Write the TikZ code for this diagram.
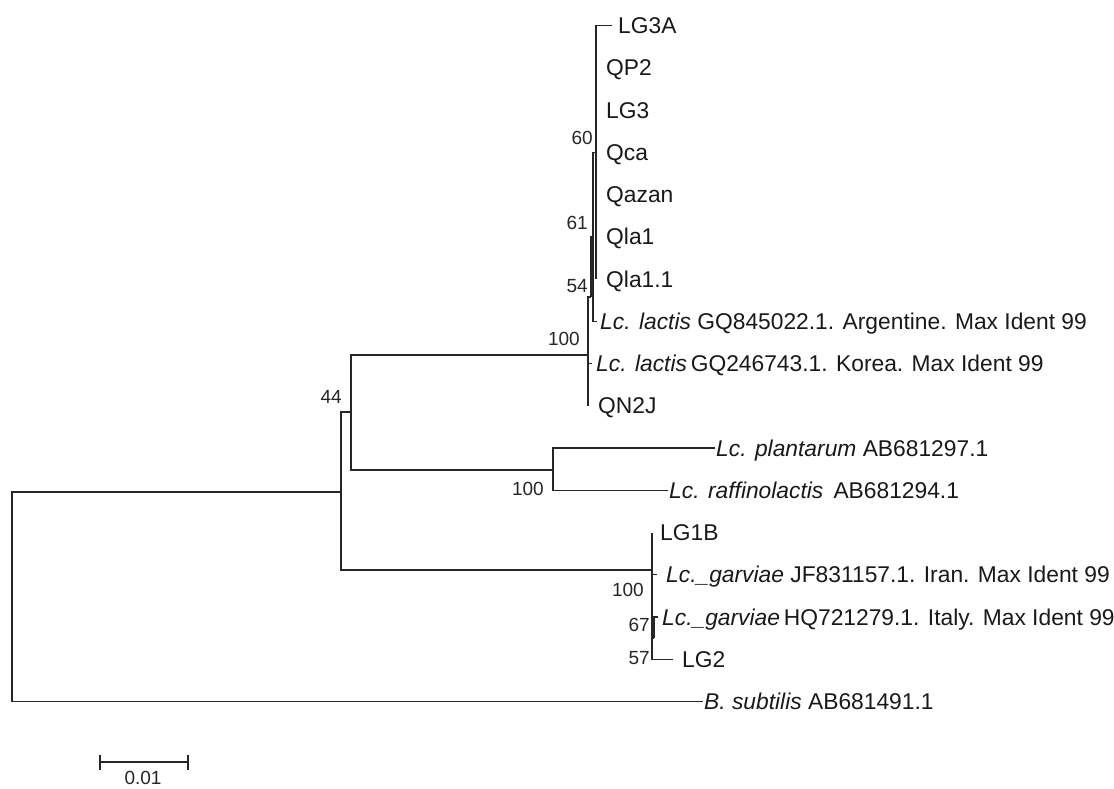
\documentclass[tikz,border=0pt]{standalone}
\usepackage{fontspec}
\setmainfont{Liberation Sans}
\begin{document}
\begin{tikzpicture}[x=1pt,y=-1pt,
  br/.style={line width=1.1pt,draw=black!85},
  taxon/.style={anchor=base west,inner sep=0pt,font=\fontsize{22.8}{25}\selectfont,text=black!90},
  boot/.style={anchor=east,inner sep=0pt,font=\fontsize{19}{21}\selectfont,text=black!85}]
\useasboundingbox (0,0) rectangle (1114,788);
% ---- tip coordinates (branch ends)
\coordinate (e0) at (612,25.5);
\coordinate (e1) at (596,67.75);
\coordinate (e2) at (596,110);
\coordinate (e3) at (596,152.25);
\coordinate (e4) at (596,194.5);
\coordinate (e5) at (596,236.75);
\coordinate (e6) at (596,279);
\coordinate (e7) at (597,321.25);
\coordinate (e8) at (592,363.5);
\coordinate (e9) at (588,405.75);
\coordinate (e10) at (715,448);
\coordinate (e11) at (668,490.25);
\coordinate (e12) at (652,532.5);
\coordinate (e13) at (657,574.75);
\coordinate (e14) at (658,617);
\coordinate (e15) at (673,659.25);
\coordinate (e16) at (703,701.5);
% ---- internal nodes
\coordinate (root) at (12,596);
\coordinate (n1) at (341,492);
\coordinate (n44) at (351,412);
\coordinate (nPl) at (553,470);
\coordinate (nL) at (588,355);
\coordinate (n54) at (591,297);
\coordinate (n61) at (593,236.75);
\coordinate (n60) at (596,152.25);
\coordinate (nG) at (652,570);
\coordinate (n67) at (654,638);
% ---- branches
\draw[br] (root) |- (n1);
\draw[br] (root) |- (e16);
\draw[br] (n1) |- (n44);
\draw[br] (n1) |- (nG);
\draw[br] (n44) |- (nL);
\draw[br] (n44) |- (nPl);
\draw[br] (nPl) |- (e10);
\draw[br] (nPl) |- (e11);
\draw[br] (nL) |- (n54);
\draw[br] (nL) |- (e8);
\draw[br] (nL) |- (e9);
\draw[br] (n54) |- (n61);
\draw[br] (n61) |- (n60);
\draw[br] (n61) |- (e7);
\draw[br] (n60) |- (e0);
\draw[br] (n60) |- (e1);
\draw[br] (n60) |- (e2);
\draw[br] (n60) |- (e3);
\draw[br] (n60) |- (e4);
\draw[br] (n60) |- (e5);
\draw[br] (n60) |- (e6);
\draw[br] (nG) |- (e12);
\draw[br] (nG) |- (e13);
\draw[br] (nG) |- (n67);
\draw[br] (nG) |- (e15);
\draw[br] (n67) |- (e14);
% ---- taxon labels
\node[taxon] (t0) at (618,33.7) {LG3A};
\node[taxon] (t1) at (606,75.9) {QP2};
\node[taxon] (t2) at (606,118.2) {LG3};
\node[taxon] (t3) at (606,160.4) {Qca};
\node[taxon] (t4) at (606,202.7) {Qazan};
\node[taxon] (t5) at (606,244.9) {Qla1};
\node[taxon] (t6) at (606,287.2) {Qla1.1};
\node[taxon] (t7) at (600,329.4) {\textit{Lc. lactis} GQ845022.1. Argentine. Max Ident 99};
\node[taxon] (t8) at (596,371.7) {\textit{Lc. lactis}\,GQ246743.1. Korea. Max Ident 99};
\node[taxon] (t9) at (598,413.9) {QN2J};
\node[taxon] (t10) at (716,456.2) {\textit{Lc. plantarum} AB681297.1};
\node[taxon] (t11) at (669,498.4) {\textit{Lc. raffinolactis}\, AB681294.1};
\node[taxon] (t12) at (660,540.7) {LG1B};
\node[taxon] (t13) at (666,582.9) {\textit{Lc.\_garviae} JF831157.1. Iran. Max Ident 99};
\node[taxon] (t14) at (662,625.2) {\textit{Lc.\_garviae}\,HQ721279.1. Italy. Max Ident 99};
\node[taxon] (t15) at (682,667.4) {LG2};
\node[taxon] (t16) at (704,709.7) {\textit{B. subtilis} AB681491.1};
% ---- bootstrap values
\node[boot] (b60) at (593,138) {60};
\node[boot] (b61) at (588,223) {61};
\node[boot] (b54) at (588,286) {54};
\node[boot] (b100a) at (580,339) {100};
\node[boot] (b44) at (342,397) {44};
\node[boot] (b100b) at (544,489) {100};
\node[boot] (b100c) at (644,590) {100};
\node[boot] (b67) at (650,625) {67};
\node[boot] (b57) at (650,658) {57};
% ---- scale bar
\coordinate (s0) at (100,762);
\coordinate (s1) at (188,762);
\draw[br] (s0) -- (s1);
\draw[br] ([yshift=-7.5pt]s0) -- ([yshift=7.5pt]s0);
\draw[br] ([yshift=-7.5pt]s1) -- ([yshift=7.5pt]s1);
\node[boot,anchor=center] (sl) at (143,778) {0.01};
\end{tikzpicture}
\end{document}
